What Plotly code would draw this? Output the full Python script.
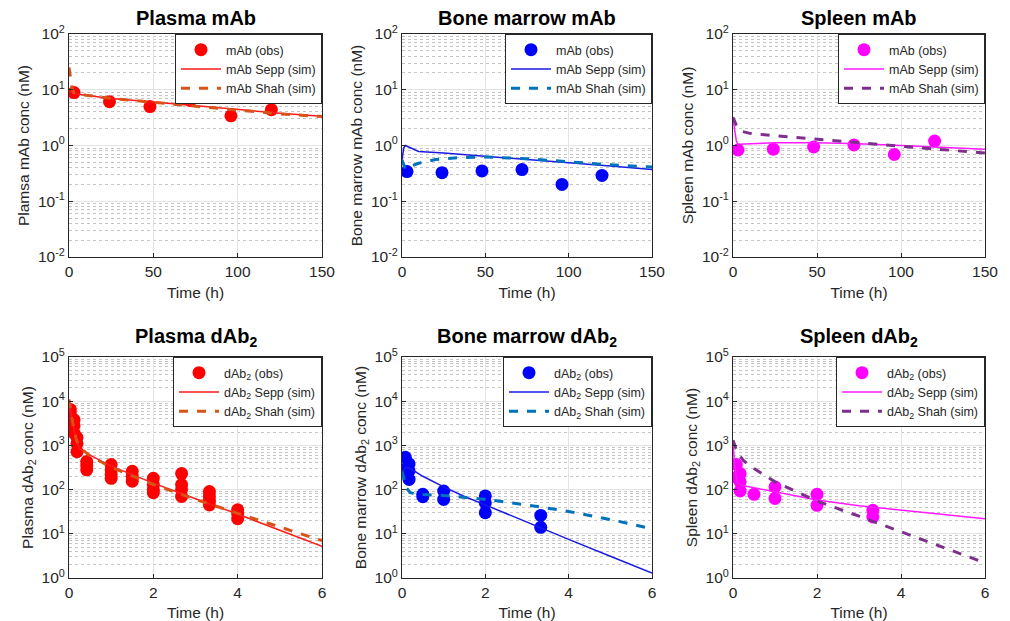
import plotly.graph_objects as go

# ---------------- DATA ----------------
# Row 1: mAb (time in h, conc in nM)
mab_obs_t = [3, 24, 48, 72, 96, 120]
plasma_mab_obs = [8.9, 6.1, 5.0, 6.4, 3.4, 4.4]
bm_mab_obs = [0.34, 0.325, 0.35, 0.37, 0.20, 0.29]
spleen_mab_obs = [0.83, 0.86, 0.94, 1.02, 0.69, 1.2]

plasma_mab_sepp_t = [0, 3, 10, 25, 50, 75, 100, 125, 150]
plasma_mab_sepp = [9.5, 8.6, 8.0, 7.0, 6.0, 5.1, 4.4, 3.8, 3.35]
plasma_mab_shah_t = [0, 1, 2, 3, 10, 25, 50, 75, 100, 125, 150]
plasma_mab_shah = [25, 14, 10, 8.8, 8.0, 7.0, 5.9, 5.0, 4.3, 3.7, 3.3]

bm_mab_sepp_t = [0, 1, 2, 5, 10, 25, 50, 75, 100, 125, 150]
bm_mab_sepp = [0.55, 0.9, 1.0, 0.9, 0.78, 0.73, 0.64, 0.57, 0.5, 0.43, 0.37]
bm_mab_shah_t = [0, 2, 5, 10, 20, 35, 50, 75, 100, 125, 150]
bm_mab_shah = [0.55, 0.38, 0.42, 0.48, 0.56, 0.61, 0.62, 0.58, 0.51, 0.45, 0.41]

spleen_mab_sepp_t = [0, 1, 2, 3, 10, 25, 50, 75, 100, 125, 150]
spleen_mab_sepp = [3.0, 1.8, 1.2, 1.05, 1.08, 1.12, 1.12, 1.08, 1.0, 0.93, 0.86]
spleen_mab_shah_t = [0, 2, 5, 10, 25, 50, 75, 100, 125, 150]
spleen_mab_shah = [3.2, 2.3, 1.8, 1.65, 1.5, 1.3, 1.15, 0.98, 0.84, 0.73]

# Row 2: dAb2
plasma_dab_obs_t = [0.03, 0.03, 0.03, 0.12, 0.12, 0.12, 0.19, 0.19, 0.19,
                    0.42, 0.42, 0.42, 1, 1, 1, 1, 1.5, 1.5, 1.5,
                    2, 2, 2, 2, 2.67, 2.67, 2.67, 2.67,
                    3.33, 3.33, 3.33, 3.33, 4, 4, 4]
plasma_dab_obs = [6500, 5500, 4500, 3800, 2800, 1900, 1500, 1100, 720,
                  430, 350, 280, 370, 280, 220, 180, 260, 200, 155,
                  180, 130, 100, 85, 230, 130, 100, 70,
                  90, 70, 55, 45, 35, 28, 22]
plasma_dab_sepp_t = [0, 0.05, 0.1, 0.17, 0.25, 0.5, 1, 2, 3, 4, 5, 6]
plasma_dab_sepp = [9000, 5000, 2500, 1300, 850, 600, 340, 140, 62, 28, 12, 5.2]
plasma_dab_shah_t = [0, 0.05, 0.1, 0.17, 0.25, 0.5, 1, 2, 3, 4, 5, 6]
plasma_dab_shah = [11000, 5500, 2800, 1400, 900, 580, 320, 130, 60, 29, 14, 7.0]

bm_dab_obs_t = [0.08, 0.08, 0.17, 0.17, 0.17, 0.5, 0.5, 1, 1, 2, 2, 2, 3.33, 3.33]
bm_dab_obs = [540, 290, 380, 265, 170, 78, 69, 93, 60, 72, 50, 30, 26, 14]
bm_dab_sepp_t = [0, 0.1, 0.2, 0.5, 1, 1.5, 2, 3, 4, 5, 6]
bm_dab_sepp = [250, 320, 300, 200, 115, 70, 45, 18, 7.5, 3.1, 1.3]
bm_dab_shah_t = [0, 0.1, 0.2, 0.4, 1, 2, 3, 4, 5, 6]
bm_dab_shah = [260, 110, 85, 78, 74, 60, 45, 32, 21, 13]

spleen_dab_obs_t = [0.08, 0.08, 0.17, 0.17, 0.17, 0.5, 1, 1, 2, 2, 3.33, 3.33]
spleen_dab_obs = [370, 190, 230, 150, 93, 78, 115, 63, 78, 44, 34, 24]
spleen_dab_sepp_t = [0, 0.05, 0.1, 0.2, 0.5, 1, 2, 3, 4, 5, 6]
spleen_dab_sepp = [1000, 300, 150, 125, 110, 90, 58, 43, 34, 27, 22]
spleen_dab_shah_t = [0, 0.1, 0.25, 0.5, 1, 1.5, 2, 3, 4, 5, 6]
spleen_dab_shah = [1300, 700, 450, 300, 150, 90, 55, 25, 11, 5, 2.2]

titles = ["Plasma mAb", "Bone marrow mAb", "Spleen mAb",
          "Plasma dAb<sub>2</sub>", "Bone marrow dAb<sub>2</sub>", "Spleen dAb<sub>2</sub>"]
ytitles = ["Plamsa mAb conc (nM)", "Bone marrow mAb conc (nM)", "Spleen mAb conc (nM)",
           "Plasma dAb<sub>2</sub> conc (nM)", "Bone marrow dAb<sub>2</sub> conc (nM)",
           "Spleen dAb<sub>2</sub> conc (nM)"]
top_yticks = [-2, -1, 0, 1, 2]
bot_yticks = [0, 1, 2, 3, 4, 5]
top_xticks = [0, 50, 100, 150]
bot_xticks = [0, 2, 4, 6]

# ---------------- STYLE ----------------
W, H = 1010, 621
FONT = "Liberation Sans, Arial, sans-serif"
TXT = "#262626"
xdom = [(69, 322), (402, 652), (733, 985)]
ydom = [(34, 257), (357, 578)]

panels = [
    (mab_obs_t, plasma_mab_obs, plasma_mab_sepp_t, plasma_mab_sepp, plasma_mab_shah_t, plasma_mab_shah,
     "#FF0000", "#FF1A1A", "#D95319", "mAb"),
    (mab_obs_t, bm_mab_obs, bm_mab_sepp_t, bm_mab_sepp, bm_mab_shah_t, bm_mab_shah,
     "#0000FF", "#1A1AE6", "#0072BD", "mAb"),
    (mab_obs_t, spleen_mab_obs, spleen_mab_sepp_t, spleen_mab_sepp, spleen_mab_shah_t, spleen_mab_shah,
     "#FF00FF", "#FF1AFF", "#7E2F8E", "mAb"),
    (plasma_dab_obs_t, plasma_dab_obs, plasma_dab_sepp_t, plasma_dab_sepp, plasma_dab_shah_t, plasma_dab_shah,
     "#FF0000", "#FF1A1A", "#D95319", "dAb<sub>2</sub>"),
    (bm_dab_obs_t, bm_dab_obs, bm_dab_sepp_t, bm_dab_sepp, bm_dab_shah_t, bm_dab_shah,
     "#0000FF", "#1A1AE6", "#0072BD", "dAb<sub>2</sub>"),
    (spleen_dab_obs_t, spleen_dab_obs, spleen_dab_sepp_t, spleen_dab_sepp, spleen_dab_shah_t, spleen_dab_shah,
     "#FF00FF", "#FF1AFF", "#7E2F8E", "dAb<sub>2</sub>"),
]

fig = go.Figure()
layout = dict(
    width=W, height=H, margin=dict(l=0, r=0, t=0, b=0, autoexpand=False),
    paper_bgcolor="white", plot_bgcolor="white",
    font=dict(family=FONT, color=TXT, size=14),
    showlegend=True,
)
annotations = []

for i, (ot, ov, st, sv, ht, hv, oc, sc, hc, nm) in enumerate(panels):
    row, col = divmod(i, 3)
    k = i + 1
    xa = "x" if k == 1 else f"x{k}"
    ya = "y" if k == 1 else f"y{k}"
    lg = "legend" if k == 1 else f"legend{k}"
    x0, x1 = xdom[col]
    y0, y1 = ydom[row]

    fig.add_trace(go.Scatter(x=ot, y=ov, mode="markers", name=f"{nm} (obs)",
                             marker=dict(color=oc, size=13, line=dict(width=0)),
                             xaxis=xa, yaxis=ya, legend=lg))
    fig.add_trace(go.Scatter(x=st, y=sv, mode="lines", name=f"{nm} Sepp (sim)",
                             line=dict(color=sc, width=1.5),
                             xaxis=xa, yaxis=ya, legend=lg))
    fig.add_trace(go.Scatter(x=ht, y=hv, mode="lines", name=f"{nm} Shah (sim)",
                             line=dict(color=hc, width=3, dash="dash"),
                             xaxis=xa, yaxis=ya, legend=lg))

    yt = top_yticks if row == 0 else bot_yticks
    xt = top_xticks if row == 0 else bot_xticks
    axis_common = dict(showline=True, linecolor=TXT, linewidth=1, mirror=True,
                       ticks="inside", ticklen=4, tickcolor=TXT, automargin=False,
                       tickfont=dict(family=FONT, size=15.5, color=TXT),
                       showgrid=True, gridcolor="#E3E3E3", gridwidth=1, zeroline=False)
    layout["xaxis" if k == 1 else f"xaxis{k}"] = dict(
        axis_common, domain=[x0 / W, x1 / W], anchor=ya,
        range=[xt[0], xt[-1]], tickvals=xt, ticktext=[str(v) for v in xt],
        title=dict(text="Time (h)", font=dict(family=FONT, size=15.5, color=TXT), standoff=8),
    )
    layout["yaxis" if k == 1 else f"yaxis{k}"] = dict(
        axis_common, domain=[1 - y1 / H, 1 - y0 / H], anchor=xa, type="log",
        range=[yt[0], yt[-1]], tickvals=[10 ** v for v in yt],
        ticktext=[f"10<sup>{v}</sup>" for v in yt],
        minor=dict(dtick="D1", showgrid=True, gridcolor="#C4C4C4", griddash="dot",
                   gridwidth=1, ticks=""),
        title=dict(text=ytitles[i], font=dict(family=FONT, size=15.5, color=TXT), standoff=4),
    )
    layout[lg] = dict(
        x=x1 / W, y=1 - y0 / H, xanchor="right", yanchor="top",
        xref="paper", yref="paper",
        bgcolor="white", bordercolor=TXT, borderwidth=1,
        font=dict(family=FONT, size=12.5, color=TXT),
        itemwidth=40, tracegroupgap=0,
    )
    annotations.append(dict(
        text=f"<b>{titles[i]}</b>", x=(x0 + x1) / 2 / W,
        y=1 - (y0 - (3 if row == 0 else 5)) / H,
        xref="paper", yref="paper", xanchor="center", yanchor="bottom",
        showarrow=False, font=dict(family=FONT, size=20, color="black"),
    ))

layout["annotations"] = annotations
fig.update_layout(**layout)
fig.write_html("out.html", config={"displayModeBar": False},
               post_script="document.body.style.margin='0';document.body.style.overflow='hidden';")
